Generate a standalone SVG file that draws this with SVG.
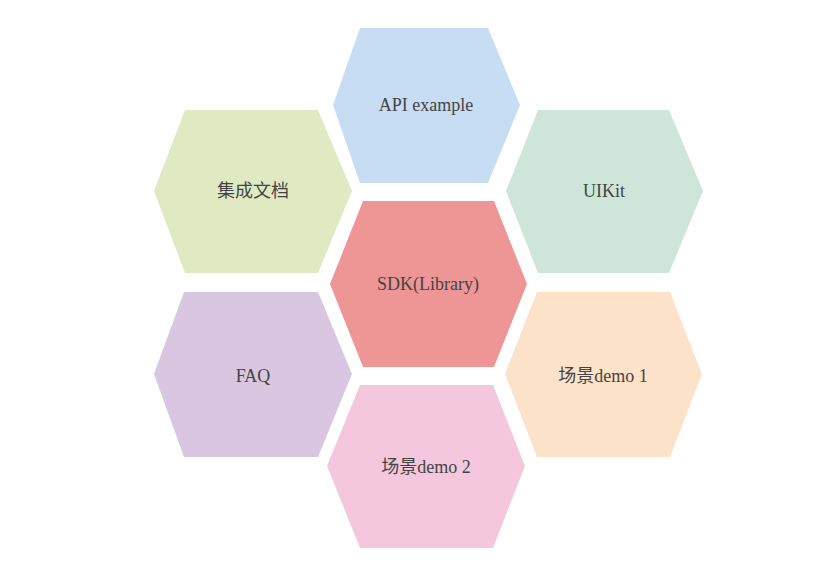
<svg xmlns="http://www.w3.org/2000/svg" width="825" height="569" viewBox="0 0 825 569">
<style>
.lbl{font-family:"Liberation Serif","Noto Sans CJK SC",serif;font-size:18px;fill:#444444;text-anchor:middle;dominant-baseline:central}
</style>
<rect width="825" height="569" fill="#ffffff"/>
<g id="api">
<polygon points="360,28 488,28 520,105 488,183 360,183 333,105" fill="#c7ddf3"/>
<text class="lbl" x="426" y="105">API example</text>
</g>
<g id="docs">
<polygon points="185,110 318,110 352,191 318,273 185,273 154,191" fill="#dfeac3"/>
<text class="lbl" x="253" y="191">集成文档</text>
</g>
<g id="uikit">
<polygon points="538,110 669,110 703,191 669,273 538,273 506,191" fill="#cde6d9"/>
<text class="lbl" x="604" y="191">UIKit</text>
</g>
<g id="sdk">
<polygon points="363,201 494,201 527,284 494,367 363,367 330,284" fill="#ee9596"/>
<text class="lbl" x="428" y="284">SDK(Library)</text>
</g>
<g id="faq">
<polygon points="184,292 318,292 352,374 318,457 184,457 154,374" fill="#d9c7e2"/>
<text class="lbl" x="253" y="376">FAQ</text>
</g>
<g id="demo1">
<polygon points="537,292 670,292 702,374 670,457 537,457 505,374" fill="#fce2c9"/>
<text class="lbl" x="603" y="376">场景demo 1</text>
</g>
<g id="demo2">
<polygon points="360,385 493,385 525,466 493,548 360,548 327,466" fill="#f4c7dd"/>
<text class="lbl" x="426" y="467">场景demo 2</text>
</g>
<g id="connectors"></g>
</svg>
